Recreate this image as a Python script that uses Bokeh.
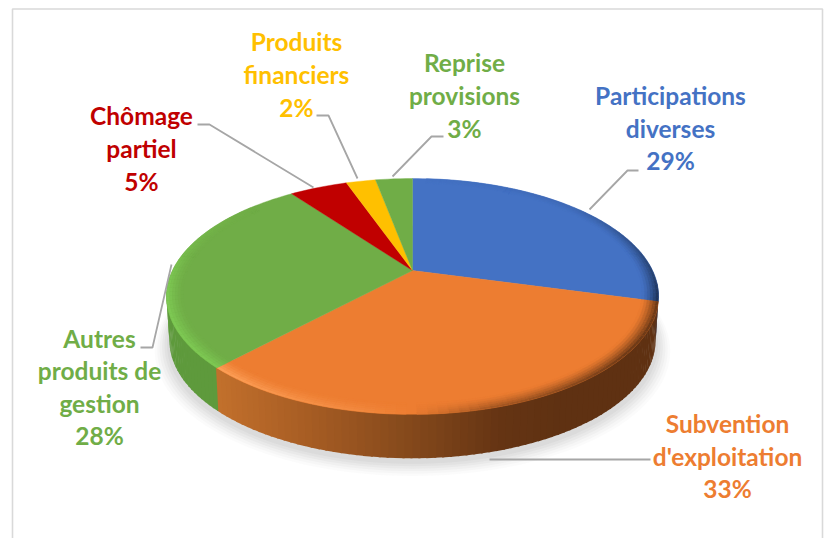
import numpy as np
from bokeh.plotting import figure
from bokeh.models import Range1d
from bokeh.core.properties import value
from bokeh.embed import file_html
from bokeh.resources import INLINE

# ---- data
categories = ["Participations diverses", "Subvention d'exploitation", "Autres produits de gestion",
              "Chômage partiel", "Produits financiers", "Reprise provisions"]
values = [29.2, 32.8, 27.9, 4.7, 2.4, 3.0]
pct_labels = ["29%", "33%", "28%", "5%", "2%", "3%"]
label_lines = [["Participations", "diverses"], ["Subvention", "d'exploitation"],
               ["Autres", "produits de", "gestion"], ["Chômage", "partiel"],
               ["Produits", "financiers"], ["Reprise", "provisions"]]

# ---- styles and layout
colors = ["#4472C4", "#ED7D31", "#70AD47", "#C00000", "#FFC000", "#70AD47"]
light = ["#5B8BE0", "#FFA55E", "#7FCC54", "#D82020", "#FFD040", "#7FCC54"]
label_x = [670, 727, 99, 141, 296, 464]
label_base = [[104, 137, 169], [432, 465, 497], [347, 379, 412, 444],
              [124, 157, 190], [50, 83, 116], [71, 104, 137]]
leaders = [([589, 627, 638], [209, 170, 170]),
           ([489, 650], [459, 459]),
           ([171, 152, 140], [264, 347, 347]),
           ([197, 209, 313], [124, 124, 187]),
           ([316, 328, 357], [115, 115, 178]),
           ([443, 431, 392], [136, 136, 176])]
CX, CY, RX, RY, K, DEPTH = 412.0, 270.0, 240.0, 112.2, 0.22, 44.0
FONT_SIZE = "24.5px"
TEXT_SHIFT = -9.5


def pt(theta_deg, s=1.0):
    th = np.radians(theta_deg)
    v, u = s * np.cos(th), s * np.sin(th)
    w = 1 + K * v
    return CX + RX * u / w, CY - RY * v / w


def bottom(theta_deg, s=1.0):
    x, y = pt(theta_deg, s)
    return CX + (x - CX) * 0.988, y + DEPTH


def h2rgb(h):
    return np.array([int(h[i:i + 2], 16) for i in (1, 3, 5)], float)


def mix(a, b, t):
    c = a + (b - a) * t
    return "#%02x%02x%02x" % tuple(int(round(x)) for x in c)


p = figure(width=824, height=538, x_range=Range1d(0, 824), y_range=Range1d(538, 0),
           toolbar_location=None, output_backend="svg", min_border=0,
           outline_line_color=None, background_fill_color="white")
p.axis.visible = False
p.grid.visible = False

# chart frame
p.line([12, 12, 822, 822], [539, 8.5, 8.5, 539], line_color="#D9D9D9", line_width=1.6)

# soft shadow under the pie
tt = np.linspace(0, 360, 181)
for grow, yoff, alpha in [(1.06, 9, 0.035), (1.05, 8, 0.04), (1.04, 7, 0.05), (1.03, 6, 0.06),
                          (1.02, 5, 0.07), (1.01, 4, 0.08)]:
    xs, ys = bottom(tt)
    p.patch(CX + (xs - CX) * grow, ys + yoff + (ys - (CY + DEPTH)) * (grow - 1),
            fill_color="#8c8c8c", fill_alpha=alpha, line_color=None)

# side walls
cum = np.cumsum([0] + values) / sum(values) * 360.0
wall_stops_x = [215, 300, 412, 500, 560, 660]
wall_stops = np.array([h2rgb(c) for c in ["#C2702C", "#A95E24", "#83481B", "#653413", "#5F3112", "#5F3112"]])
wx, wy, wc = [], [], []
for th0, th1 in zip(np.arange(96, 266, 1.5), np.arange(96, 266, 1.5) + 1.5):
    xa, ya = pt(th0)
    xb, yb = pt(th1 + 0.4)
    xc, yc = bottom(th1 + 0.4)
    xd, yd = bottom(th0)
    wx.append([xa, xb, xc, xd])
    wy.append([ya - 1, yb - 1, yc, yd])
    mid = (th0 + th1) / 2
    if mid < cum[1]:
        wc.append("#1F3864")
    elif mid < cum[2]:
        xm = (xa + xb) / 2
        rgb = [np.interp(xm, wall_stops_x, wall_stops[:, i]) for i in range(3)]
        wc.append(mix(np.array(rgb), np.array(rgb), 0))
    else:
        wc.append("#5E9A3C")
p.patches(wx, wy, fill_color=wc, line_color=None)

# top face
for i, col in enumerate(colors):
    th = np.linspace(cum[i], cum[i + 1], max(3, int((cum[i + 1] - cum[i]) / 1.5)))
    xs, ys = pt(th)
    p.patch(np.r_[CX, xs], np.r_[CY, ys], fill_color=col, line_color=col, line_width=0.4)

# bevel along the rim
qa = [0, 50, 80, 104, 130, 165, 190, 225, 260, 285, 310, 360]
qv = [0, -0.15, -0.6, -1.0, -1.0, -0.55, 0.35, 1.0, 1.0, 0.4, 0, 0]
N = 6
BW = 0.065
bx, by, bc = [], [], []
for i, col in enumerate(colors):
    base = h2rgb(col)
    lit = h2rgb(light[i])
    dark = base * 0.40
    edges = np.linspace(cum[i], cum[i + 1], max(2, int((cum[i + 1] - cum[i]) / 2) + 1))
    for a0, a1 in zip(edges[:-1], edges[1:]):
        q = float(np.interp((a0 + a1) / 2, qa, qv))
        if abs(q) < 0.01:
            continue
        for j in range(N):
            s0 = 1 - BW + BW * j / N
            s1 = 1 - BW + BW * (j + 1) / N
            t = ((j + 0.5) / N) ** 1.4
            x0, y0 = pt(a0, s0)
            x1, y1 = pt(a1, s0)
            x2, y2 = pt(a1, s1)
            x3, y3 = pt(a0, s1)
            bx.append([x0, x1, x2, x3])
            by.append([y0, y1, y2, y3])
            bc.append(mix(base, lit, q * t) if q > 0 else mix(base, dark, -q * t))
p.patches(bx, by, fill_color=bc, line_color=bc, line_width=0.3)

# leader lines
for lx, ly in leaders:
    p.line(lx, ly, line_color="#A6A6A6", line_width=1.8)

# labels
for i in range(len(categories)):
    lines = label_lines[i] + [pct_labels[i]]
    p.text([label_x[i]] * len(lines), [b + TEXT_SHIFT for b in label_base[i]], text=lines,
           text_color=colors[i], text_font=value("Lato"), text_font_style="bold",
           text_font_size=FONT_SIZE, text_align="center", text_baseline="alphabetic")

open("out.html", "w").write(file_html(p, INLINE))
